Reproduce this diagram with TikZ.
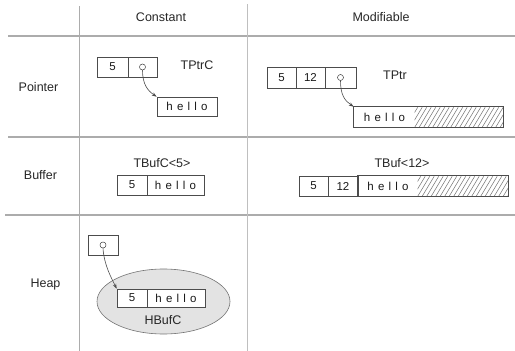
\documentclass[tikz,border=0pt]{standalone}
\usepackage{fontspec}
\setmainfont{Liberation Sans}
\usetikzlibrary{arrows.meta,shapes.geometric}
\newcommand\hellotxt{h\hspace{4.2pt}e\hspace{4.2pt}l\hspace{4.2pt}l\hspace{4.2pt}o}
\begin{document}
\begin{tikzpicture}[x=1pt,y=-1pt,
  rule/.style={draw=gray!65, line width=1.1pt},
  cell/.style={draw=black!70, line width=0.6pt, minimum height=20pt, inner sep=0pt,
    font=\fontsize{11.5}{12}\selectfont, text=black!90},
  lbl/.style={font=\fontsize{12.5}{14}\selectfont, text=black!85, inner sep=0pt},
  ptr/.style={-{Stealth[length=5pt,width=3.5pt]}, draw=black!70, line width=0.6pt},
  dot/.style={circle, draw=black!75, line width=0.5pt, minimum size=6pt, inner sep=0pt},
  hatch/.style={draw=black!55, line width=0.5pt}]
\useasboundingbox (0,0) rectangle (515,351);

% table rules
\coordinate (h1l) at (8,36);   \coordinate (h1r) at (515,36);
\coordinate (h2l) at (8,137);  \coordinate (h2r) at (515,137);
\coordinate (h3l) at (5,215);  \coordinate (h3r) at (515,215);
\coordinate (v1t) at (79,6);   \coordinate (v1b) at (79,351);
\coordinate (v2t) at (247,4);  \coordinate (v2b) at (247,351);
\draw[rule, line width=1.5pt] (h1l) -- (h1r);
\draw[rule] (h2l) -- (h2r);
\draw[rule] (h3l) -- (h3r);
\draw[rule, line width=0.9pt] (v1t) -- (v1b);
\draw[rule, draw=gray!50, line width=0.9pt] (v2t) -- (v2b);

% headings
\node[lbl] (hc) at (161,17) {Constant};
\node[lbl] (hm) at (381,17) {Modifiable};
\node[lbl] (rp) at (38.5,87) {Pointer};
\node[lbl] (rb) at (40.5,175) {Buffer};
\node[lbl] (rh) at (45.5,284) {Heap};

% TPtrC
\node[cell, minimum width=31pt] (pc5) at (112.5,67) {5};
\node[cell, minimum width=29pt] (pcp) at (142.5,67) {};
\node[dot] (pcd) at (pcp) {};
\node[lbl] (pcl) at (197,65) {TPtrC};
\node[cell, minimum width=60pt, minimum height=19pt] (pch) at (187,106.5) {\hellotxt};
\draw[ptr] (pcd.south) .. controls +(0,14) and +(-9,-6) .. (pch.north west);

% TPtr
\node[cell, minimum width=29pt, minimum height=21pt] (pm5) at (281.5,77.5) {5};
\node[cell, minimum width=29pt, minimum height=21pt] (pm12) at (310.5,77.5) {12};
\node[cell, minimum width=31pt, minimum height=21pt] (pmp) at (340.5,77.5) {};
\node[dot] (pmd) at (pmp) {};
\node[lbl] (pml) at (395,75) {TPtr};
\node[cell, minimum width=61pt, draw=none] (pmh) at (384.5,117) {\hellotxt};
\node[cell, minimum width=88pt, draw=none] (pmx) at (459,117) {};
\begin{scope}
  \clip (pmx.south west) rectangle (pmx.north east);
  \foreach \k in {-3,...,22}
    \draw[hatch] ([xshift=\k*4.5pt]pmx.south west) -- ++(12,-20);
\end{scope}
\draw[draw=black!70, line width=0.6pt] (pmh.north west) rectangle (pmx.south east);
\draw[ptr] (pmd.south) .. controls +(0,14) and +(-9,-6) .. (pmh.north west);

% TBufC<5>
\node[lbl] (bcl) at (162,163) {TBufC<5>};
\node[cell, minimum width=30pt] (bc5) at (132,185) {5};
\node[cell, minimum width=57pt] (bch) at (175.5,185) {\hellotxt};

% TBuf<12>
\node[lbl] (bml) at (402,163) {TBuf<12>};
\node[cell, minimum width=29pt] (bm5) at (313.5,186) {5};
\node[cell, minimum width=30pt] (bm12) at (343,186) {12};
\node[cell, minimum width=60pt, draw=none] (bmh) at (388,186) {\hellotxt};
\node[cell, minimum width=90pt, draw=none] (bmx) at (463,186) {};
\begin{scope}
  \clip (bmx.south west) rectangle (bmx.north east);
  \foreach \k in {-3,...,22}
    \draw[hatch] ([xshift=\k*4.5pt]bmx.south west) -- ++(12,-20);
\end{scope}
\draw[draw=black!70, line width=0.6pt] (bmh.north west) rectangle (bmx.south east);

% HBufC
\node[cell, minimum width=30pt] (hp) at (103,245) {};
\node[dot] (hpd) at (hp) {};
\node[ellipse, draw=black!55, fill=gray!22, line width=0.6pt, minimum width=133pt,
  minimum height=65pt, inner sep=0pt] (hel) at (163.5,301.5) {};
\node[cell, minimum width=30pt, minimum height=18pt, fill=white] (h5) at (132,298) {5};
\node[cell, minimum width=58pt, minimum height=18pt, fill=white] (hh) at (176,298) {\hellotxt};
\node[lbl] (hbl) at (163,320) {HBufC};
\draw[ptr] (hpd.south) .. controls +(1,16) and +(-6,-12) .. (h5.north west);
\end{tikzpicture}
\end{document}
